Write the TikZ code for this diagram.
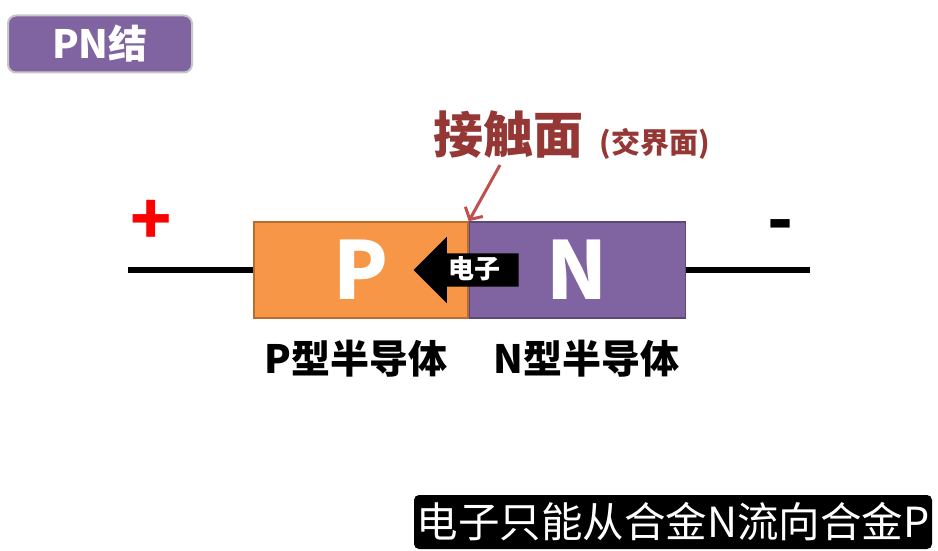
\documentclass[tikz,border=0pt]{standalone}
\usepackage{fontspec}
\setmainfont{Noto Sans CJK SC}
\usetikzlibrary{shapes.arrows, arrows.meta, positioning}

\definecolor{ptype}{HTML}{F79646}
\definecolor{ptypeline}{HTML}{B66D31}
\definecolor{ntype}{HTML}{8064A2}
\definecolor{ntypeline}{HTML}{5C4776}
\definecolor{contactred}{HTML}{953735}
\definecolor{calloutred}{HTML}{C0504D}

\begin{document}
\begin{tikzpicture}[x=1pt, y=-1pt,
	semi/.style={rectangle, draw, line width=1.5pt, minimum width=214pt, minimum height=96pt, inner sep=0pt, text=white, font=\fontsize{80}{80}\selectfont\bfseries},
	tag/.style={inner sep=0pt, font=\fontsize{39}{39}\selectfont\bfseries},
	wire/.style={line width=6pt},
	callout/.style={-{Straight Barb[length=9pt, width=20pt]}, line width=3pt, draw=calloutred},
	elecarrow/.style={single arrow, shape border rotate=180, fill=black, text=white, minimum height=105pt, minimum width=66pt, single arrow head extend=16.5pt, inner xsep=4pt, inner ysep=7pt, text height=18pt, text depth=1pt, font=\fontsize{26}{26}\selectfont\bfseries},
	node distance=21pt and 0pt
]
	\useasboundingbox[fill=white] (0,0) rectangle (938,551);

	% Title
	\node[rectangle, rounded corners=8pt, fill=ntype, draw=black!22, line width=2pt, minimum width=184pt, minimum height=57pt, text=white, font=\fontsize{39}{39}\selectfont\bfseries] (title) at (100,44) {PN结};

	% PN junction
	\node[semi, fill=ptype, draw=ptypeline] (pbox) at (361,270) {P};
	\node[semi, fill=ntype, draw=ntypeline, right=of pbox, minimum width=216pt] (nbox) {N};

	% Leads
	\coordinate (lend) at (128,270);
	\coordinate (rend) at (810,270);
	\draw[wire] (lend) -- (pbox.west);
	\draw[wire] (nbox.east) -- (rend);
	\node[text=red, inner sep=0pt, font=\fontsize{68}{68}\selectfont\bfseries] (plus) at (151,222) {+};
	\node[inner sep=0pt, font=\fontsize{68}{68}\selectfont\bfseries] (minus) at (781,232) {-};

	% Electron flow
	\node[elecarrow, anchor=tail] (elec) at ([xshift=50pt]nbox.west) {电子};

	% Contact surface
	\node[text=contactred, inner sep=0pt, font=\fontsize{50}{50}\selectfont\bfseries] (contact) at (508,135) {接触面};
	\node[text=contactred, inner sep=0pt, font=\fontsize{29}{29}\selectfont\bfseries, base right=16pt of contact.base east] (border) {(交界面)};
	\draw[callout] ([xshift=-8pt, yshift=-6pt]contact.south) -- (pbox.north east);

	% Labels
	\node[tag, below=of pbox, xshift=-5pt] (plabel) {P型半导体};
	\node[tag, below=of nbox, xshift=9pt] (nlabel) {N型半导体};

	% Caption
	\node[rectangle, rounded corners=5pt, fill=black, text=white, minimum width=518pt, minimum height=54pt, inner sep=0pt, font=\fontsize{41.5}{41.5}\selectfont] (caption) at (673,522) {电子只能从合金N流向合金P};
\end{tikzpicture}
\end{document}
